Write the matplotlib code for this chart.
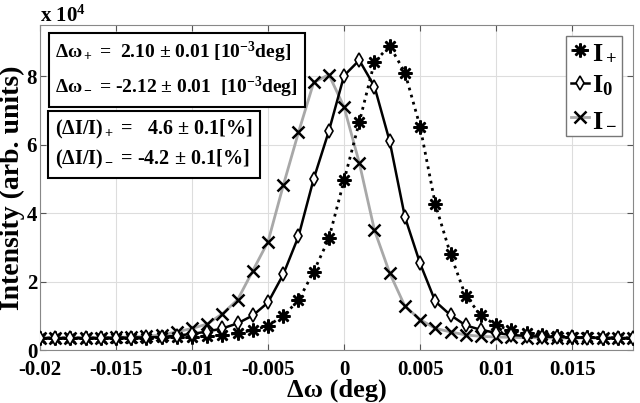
import matplotlib
matplotlib.use('Agg')
import matplotlib.pyplot as plt

plt.rcParams['font.family'] = ['Liberation Serif', 'DejaVu Serif']
plt.rcParams['font.weight'] = 'bold'
plt.rcParams['mathtext.fontset'] = 'custom'
plt.rcParams['mathtext.rm'] = 'Liberation Serif:bold'
plt.rcParams['mathtext.it'] = 'Liberation Serif:bold'
plt.rcParams['mathtext.bf'] = 'Liberation Serif:bold'

# detuning (deg)
dw = [-0.020, -0.019, -0.018, -0.017, -0.016, -0.015, -0.014, -0.013, -0.012, -0.011,
      -0.010, -0.009, -0.008, -0.007, -0.006, -0.005, -0.004, -0.003, -0.002, -0.001,
      0.000, 0.001, 0.002, 0.003, 0.004, 0.005, 0.006, 0.007, 0.008, 0.009,
      0.010, 0.011, 0.012, 0.013, 0.014, 0.015, 0.016, 0.017, 0.018, 0.019]

# intensities in units of 1e4
i_plus = [0.35, 0.35, 0.35, 0.35, 0.35, 0.35, 0.36, 0.36, 0.37, 0.38,
          0.39, 0.41, 0.43, 0.49, 0.58, 0.71, 1.00, 1.45, 2.29, 3.26,
          4.96, 6.66, 8.42, 8.89, 8.11, 6.53, 4.26, 2.80, 1.57, 1.02,
          0.72, 0.58, 0.49, 0.43, 0.40, 0.38, 0.37, 0.36, 0.36, 0.35]
i_zero = [0.35, 0.35, 0.35, 0.35, 0.35, 0.36, 0.36, 0.37, 0.38, 0.42,
          0.47, 0.54, 0.63, 0.78, 1.01, 1.39, 2.21, 3.32, 5.00, 6.40,
          8.02, 8.47, 7.70, 6.10, 3.89, 2.53, 1.42, 1.02, 0.72, 0.59,
          0.50, 0.44, 0.41, 0.39, 0.38, 0.37, 0.36, 0.36, 0.35, 0.35]
i_minus = [0.35, 0.35, 0.35, 0.36, 0.36, 0.37, 0.38, 0.40, 0.44, 0.53,
           0.63, 0.76, 1.06, 1.47, 2.32, 3.17, 4.81, 6.36, 7.82, 8.05,
           7.10, 5.47, 3.50, 2.25, 1.28, 0.89, 0.63, 0.53, 0.44, 0.40,
           0.38, 0.37, 0.36, 0.36, 0.35, 0.35, 0.35, 0.35, 0.35, 0.35]

xticks = [-0.02, -0.015, -0.01, -0.005, 0, 0.005, 0.01, 0.015]
xticklabels = ['-0.02', '-0.015', '-0.01', '-0.005', '0', '0.005', '0.01', '0.015']
yticks = [0, 2, 4, 6, 8]

fig = plt.figure(figsize=(6.4, 4.03), dpi=100)
ax = fig.add_axes([0.0625, 0.1315, 0.9265, 0.8065])

# MATLAB-like asterisk marker: 8 spokes
star = (8, 2, 0)
ax.plot(dw, i_plus, ':', color='black', lw=2, marker=star, ms=10, mew=1.8,
        label='I$_+$', zorder=3)
ax.plot(dw, i_zero, '-', color='black', lw=1.8, marker='d', ms=7, mew=1.2,
        mfc='white', label='I$_0$', zorder=4)
ax.plot(dw, i_minus, '-', color='#a8a8a8', lw=2, marker='x', ms=8, mew=1.8,
        mec='black', label='I$_-$', zorder=2)

ax.set_xlim(-0.02, 0.019)
ax.set_ylim(0, 9.5)
ax.set_xticks(xticks)
ax.set_xticklabels(xticklabels)
ax.set_yticks(yticks)
ax.tick_params(direction='in', labelsize=15, length=4, top=True, right=True,
               color='#555555')
ax.tick_params(axis='x', pad=7.5)
ax.tick_params(axis='y', pad=2)
ax.grid(True, color='#dddddd', lw=0.8)
for s in ax.spines.values():
    s.set_color('#888888')

ax.set_xlabel('Δω (deg)', fontsize=19, fontweight='bold', labelpad=-1)
ax.set_ylabel('Intensity (arb. units)', fontsize=20, fontweight='bold', labelpad=1)
ax.text(-0.02, 9.6, 'x 10$^4$', fontsize=15, ha='left', va='baseline')

ax.text(0.026, 0.955,
        'Δω$_+$ =  2.10 ± 0.01 [10$^{-3}$deg]\nΔω$_-$ = -2.12 ± 0.01  [10$^{-3}$deg]',
        transform=ax.transAxes, fontsize=14, va='top', ha='left', linespacing=1.55,
        bbox=dict(boxstyle='square,pad=0.35', fc='white', ec='black', lw=1.5))
ax.text(0.026, 0.715,
        '(ΔI/I)$_+$ =   4.6 ± 0.1[%]\n(ΔI/I)$_-$ = -4.2 ± 0.1[%]',
        transform=ax.transAxes, fontsize=14.5, va='top', ha='left', linespacing=1.45,
        bbox=dict(boxstyle='square,pad=0.35', fc='white', ec='black', lw=1.5))

leg = ax.legend(loc='upper right', fontsize=19, handlelength=0.7, handletextpad=0.1,
                borderpad=0.2, labelspacing=0.35, fancybox=False, framealpha=1,
                borderaxespad=0.4)
leg.get_frame().set_edgecolor('#777777')

fig.savefig('out.png', dpi=100)
